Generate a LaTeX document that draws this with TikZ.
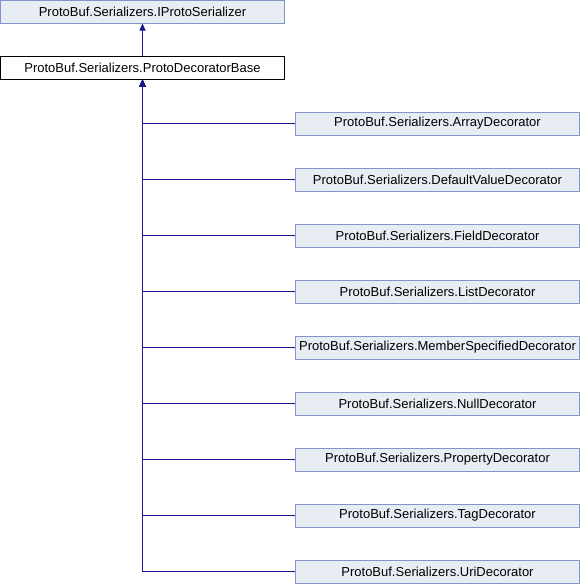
\documentclass[tikz,border=0pt]{standalone}
\usepackage{fontspec}
\setmainfont{Liberation Sans}
\usetikzlibrary{arrows.meta}
\definecolor{boxfill}{RGB}{232,236,245}
\definecolor{boxline}{RGB}{130,148,200}
\definecolor{linkcol}{RGB}{25,25,140}
\begin{document}
\begin{tikzpicture}[x=1pt,y=1pt,
  cls/.style={draw=boxline,fill=boxfill,line width=1pt,minimum width=284pt,minimum height=23pt,inner sep=0pt,font=\fontsize{13}{15}\selectfont},
  basecls/.style={cls,draw=black,fill=white},
  inh/.style={draw=linkcol,line width=1pt,-{Triangle[width=6pt,length=7pt]}}]
\useasboundingbox (0,0) rectangle (580,-584);
\node[cls] (iface) at (142.5,-11.5) {ProtoBuf.Serializers.IProtoSerializer};
\node[basecls] (base) at (142.5,-67.5) {ProtoBuf.Serializers.ProtoDecoratorBase};
\foreach \n/\t [count=\k from 0] in {c1/ArrayDecorator,c2/DefaultValueDecorator,c3/FieldDecorator,c4/ListDecorator,c5/MemberSpecifiedDecorator,c6/NullDecorator,c7/PropertyDecorator,c8/TagDecorator,c9/UriDecorator}{
  \node[cls] (\n) at (437.5,{-123.5-56*\k}) {ProtoBuf.Serializers.\t};
  \draw[inh] (\n.west) -- (\n.west -| base.south) -- (base.south);
}
\draw[inh] (base.north) -- (iface.south);
\end{tikzpicture}
\end{document}
